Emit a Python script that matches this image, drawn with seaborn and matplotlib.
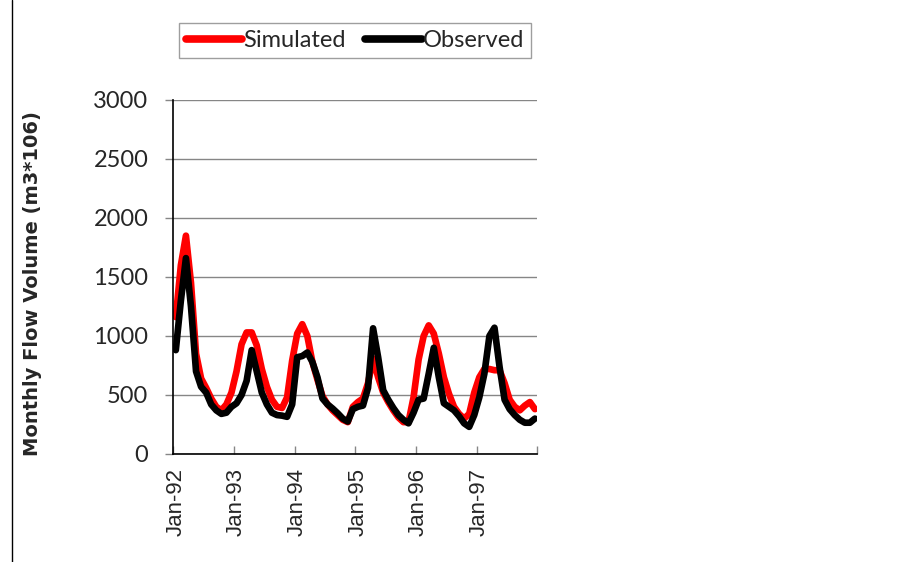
import pandas as pd
import seaborn as sns
import matplotlib.pyplot as plt
from matplotlib.lines import Line2D

# monthly flow volume, Jan-92 .. Dec-97
simulated = [1160, 1600, 1850, 1450, 850, 640, 560, 470, 400, 370, 420, 520,
             700, 930, 1030, 1030, 920, 720, 570, 460, 400, 390, 480, 790,
             1020, 1100, 1000, 780, 630, 490, 420, 370, 330, 290, 270, 400,
             440, 470, 600, 810, 650, 520, 440, 370, 310, 270, 270, 480,
             800, 1000, 1090, 1020, 850, 650, 510, 400, 340, 300, 340, 520,
             650, 720, 720, 710, 710, 600, 460, 400, 370, 410, 440, 380]
observed = [880, 1300, 1660, 1250, 700, 570, 520, 420, 370, 340, 350, 400,
            430, 500, 620, 880, 700, 520, 420, 350, 330, 325, 315, 420,
            820, 830, 860, 780, 650, 470, 420, 385, 345, 300, 275, 380,
            400, 410, 560, 1065, 820, 540, 460, 390, 330, 290, 260, 350,
            460, 470, 680, 900, 650, 430, 400, 370, 320, 260, 230, 330,
            480, 680, 1000, 1070, 740, 460, 380, 330, 290, 265, 265, 300]
year_labels = ['Jan-92', 'Jan-93', 'Jan-94', 'Jan-95', 'Jan-96', 'Jan-97']

df = pd.DataFrame({'month': range(len(simulated)),
                   'Simulated': simulated,
                   'Observed': observed})

sns.set_theme(style='white')
plt.rcParams['font.family'] = ['Lato', 'DejaVu Sans']

fig = plt.figure(figsize=(9.03, 5.62), dpi=100)
ax = fig.add_axes([0.1919, 0.1922, 0.4033, 0.6299])

sns.lineplot(data=df, x='month', y='Simulated', color='#ff0000', lw=4.8,
             label='Simulated', ax=ax, solid_capstyle='round', solid_joinstyle='round')
sns.lineplot(data=df, x='month', y='Observed', color='black', lw=4.8,
             label='Observed', ax=ax, solid_capstyle='round', solid_joinstyle='round')

ax.set_xlim(-0.5, 71.5)
ax.set_ylim(0, 3000)
ax.set_xlabel('')
ax.set_ylabel('')

# y axis
ax.set_yticks(range(0, 3001, 500))
ax.yaxis.grid(True, color='#868686', lw=1)
ax.tick_params(axis='y', direction='out', length=6, width=1, color='#868686',
               pad=12, labelsize=17, left=True)

# x axis: labels at each January, tick marks between years
ax.set_xticks(range(0, 72, 12))
ax.set_xticklabels(year_labels, rotation=90, fontfamily='Liberation Sans', fontsize=16)
ax.set_xticks([m - 0.5 for m in range(0, 73, 12)], minor=True)
ax.tick_params(axis='x', which='major', length=0, pad=10)
ax.tick_params(axis='x', which='minor', direction='in', length=6, width=1,
               color='#868686', bottom=True)

for s in ['top', 'right']:
    ax.spines[s].set_visible(False)
for s in ['left', 'bottom']:
    ax.spines[s].set_color('black')
    ax.spines[s].set_linewidth(1.2)

leg = ax.legend(loc='center', bbox_to_anchor=(0.393, 0.928), bbox_transform=fig.transFigure,
                ncol=2, frameon=True, fancybox=False, edgecolor='#868686', fontsize=17,
                handlelength=2.4, handletextpad=0.05, columnspacing=0.8, borderpad=0.3)
leg.get_frame().set_linewidth(1)
for h in leg.get_lines():
    h.set_linewidth(5.5)

fig.text(0.0365, 0.4956, 'Monthly Flow Volume (m3*106)', rotation=90, ha='center', va='center',
         fontfamily='DejaVu Sans', fontweight='bold', fontsize=14)

fig.add_artist(Line2D([0.0129, 0.0129], [0.0, 1.0], transform=fig.transFigure, color='black', lw=1))

fig.savefig('out.png', dpi=100)
